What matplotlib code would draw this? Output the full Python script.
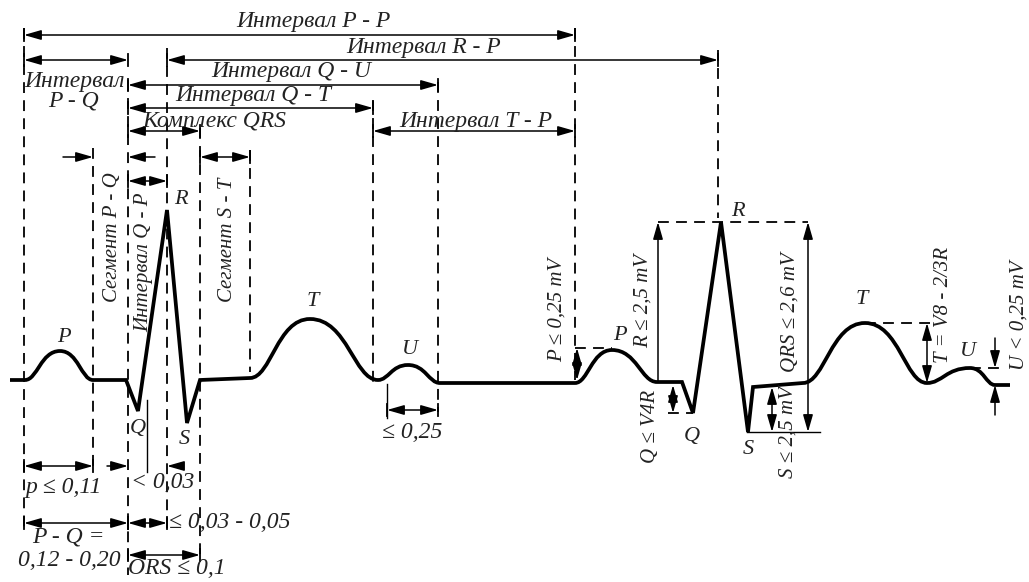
import matplotlib
matplotlib.use("Agg")
import matplotlib.pyplot as plt
from matplotlib.path import Path
from matplotlib.patches import PathPatch, FancyArrowPatch

W, H = 1029, 582

# ---- ECG trace: nodes (x, y) in picture pixels; kind: 'L' straight, 'H' smooth hump (start->peak->end)
trace_nodes = [
    ("M", (10, 380)), ("L", (25, 380)), ("H", (60, 351), (93, 380)),
    ("L", (126, 380)), ("L", (138, 411)), ("L", (167, 210)), ("L", (187, 423)),
    ("L", (200, 380)), ("L", (250, 378)), ("H", (310, 319), (378, 380)),
    ("H", (408, 365), (440, 383)), ("L", (575, 383)), ("H", (612, 350), (657, 382)),
    ("L", (682, 382)), ("L", (693, 413)), ("L", (721, 222)), ("L", (748, 432)),
    ("L", (753, 387)), ("L", (803, 383)), ("H", (865, 323), (927, 383)),
    ("H", (970, 368), (995, 385)), ("L", (1010, 385)),
]

# ---- dashed vertical guides: (x, y_top, y_bottom)
dashed_v = [
    (24, 28, 530), (93, 148, 470), (128, 80, 575), (167, 48, 532), (200, 128, 560),
    (250, 150, 372), (373, 100, 382), (438, 82, 412), (575, 28, 380), (718, 50, 218),
]

# ---- dashed horizontal guides: (x1, x2, y)
dashed_h = [(575, 612, 348), (658, 808, 222), (668, 693, 413), (865, 930, 323), (970, 1002, 368)]

# ---- solid lines: (x1, y1, x2, y2)
solid_lines = [(147, 400, 147, 472), (387, 384, 387, 418), (747, 432, 820, 432)]

# ---- horizontal double arrows: (x1, x2, y, bars)
h_arrows = [
    (24, 575, 35, True), (167, 718, 60, True), (24, 128, 60, True), (128, 438, 85, True),
    (128, 373, 108, True), (128, 200, 131, True), (373, 575, 131, True), (128, 167, 181, True),
    (200, 250, 157, True), (24, 93, 466, True), (24, 128, 523, True), (128, 167, 523, True),
    (128, 200, 555, True), (387, 438, 410, True),
]
# ---- arrows pointing inward from outside: (x_from, x_to, y)
in_arrows = [(63, 93, 157), (155, 128, 157), (107, 128, 466), (175, 167, 466)]

# ---- vertical arrows: (x, y1, y2, style)
v_arrows = [
    (577, 348, 380, "<|-|>"), (658, 382, 222, "-|>"), (673, 385, 413, "<|-|>"),
    (808, 222, 432, "<|-|>"), (772, 387, 432, "<|-|>"), (927, 323, 383, "<|-|>"),
    (995, 338, 368, "-|>"), (995, 415, 385, "-|>"),
]

# ---- texts: (x, y, text, rotation, size)
texts = [
    (313, 22, "Интервал P - P", 0, 17), (424, 47, "Интервал R - P", 0, 17),
    (291, 72, "Интервал Q - U", 0, 17), (253, 96, "Интервал Q - T", 0, 17),
    (214, 121, "Комплекс QRS", 0, 17), (476, 121, "Интервал T - P", 0, 17),
    (74, 81, "Интервал", 0, 17), (73, 101, "P - Q", 0, 17),
    (113, 237, "Сегмент P - Q", 90, 15), (144, 262, "Интервал Q - P", 90, 15),
    (228, 240, "Сегмент S - T", 90, 15),
    (64, 338, "P", 0, 16), (181, 200, "R", 0, 16), (138, 428, "Q", 0, 16), (184, 440, "S", 0, 16),
    (313, 302, "T", 0, 16), (410, 350, "U", 0, 16),
    (64, 488, "p ≤ 0,11", 0, 17), (163, 482, "< 0,03", 0, 17),
    (68, 537, "P - Q =", 0, 17), (69, 561, "0,12 - 0,20", 0, 17),
    (230, 522, "≤ 0,03 - 0,05", 0, 17), (177, 569, "ORS ≤ 0,1", 0, 17), (412, 432, "≤ 0,25", 0, 17),
    (557, 310, "P ≤ 0,25 mV", 90, 15), (643, 301, "R ≤ 2,5 mV", 90, 15), (650, 426, "Q ≤ V4R", 90, 15),
    (790, 312, "QRS ≤ 2,6 mV", 90, 15), (788, 432, "S ≤ 2,5 mV", 90, 15),
    (943, 305, "T = V8 - 2/3R", 90, 15), (1019, 315, "U < 0,25 mV", 90, 15),
    (620, 335, "P", 0, 16), (738, 211, "R", 0, 16), (692, 436, "Q", 0, 16), (748, 450, "S", 0, 16),
    (862, 300, "T", 0, 16), (968, 352, "U", 0, 16),
]

fig = plt.figure(figsize=(W / 100, H / 100), dpi=100)
ax = fig.add_axes([0, 0, 1, 1])
ax.set_xlim(0, W)
ax.set_ylim(H, 0)
ax.axis("off")

# trace path (cubic Bezier humps with flat tangents at base and peak)
verts, codes = [], []
cur = None
for node in trace_nodes:
    kind = node[0]
    if kind == "M":
        cur = node[1]
        verts.append(cur); codes.append(Path.MOVETO)
    elif kind == "L":
        cur = node[1]
        verts.append(cur); codes.append(Path.LINETO)
    else:
        peak, end = node[1], node[2]
        dx = peak[0] - cur[0]
        verts += [(cur[0] + 0.35 * dx, cur[1]), (peak[0] - 0.55 * dx, peak[1]), peak]
        dx = end[0] - peak[0]
        verts += [(peak[0] + 0.55 * dx, peak[1]), (end[0] - 0.35 * dx, end[1]), end]
        codes += [Path.CURVE4] * 6
        cur = end
ax.add_patch(PathPatch(Path(verts, codes), fill=False, lw=2.7, color="black",
                       joinstyle="miter", capstyle="butt"))

dash = dict(color="black", lw=1.3, linestyle=(0, (6, 4)))
for x, y0, y1 in dashed_v:
    ax.plot([x, x], [y0, y1], **dash)
for x1, x2, y in dashed_h:
    ax.plot([x1, x2], [y, y], **dash)
for x1, y1, x2, y2 in solid_lines:
    ax.plot([x1, x2], [y1, y2], color="black", lw=1.0)

AS = "{},head_length=1.15,head_width=0.33"

def arrow(p1, p2, style):
    ax.add_patch(FancyArrowPatch(p1, p2, arrowstyle=AS.format(style), mutation_scale=9,
                                 shrinkA=0, shrinkB=0, color="black", lw=1.1))

for x1, x2, y, bars in h_arrows:
    arrow((x1, y), (x2, y), "<|-|>")
    if bars:
        for x in (x1, x2):
            ax.plot([x, x], [y - 6, y + 6], color="black", lw=1.3)
for xf, xt, y in in_arrows:
    arrow((xf, y), (xt, y), "-|>")
for x, y1, y2, st in v_arrows:
    arrow((x, y1), (x, y2), st)

for x, y, t, rot, fs in texts:
    ax.text(x, y, t, rotation=rot, ha="center", va="center", fontsize=fs,
            family=["Liberation Serif", "DejaVu Serif"], style="italic", color="#222222")

fig.savefig("out.png", dpi=100)
